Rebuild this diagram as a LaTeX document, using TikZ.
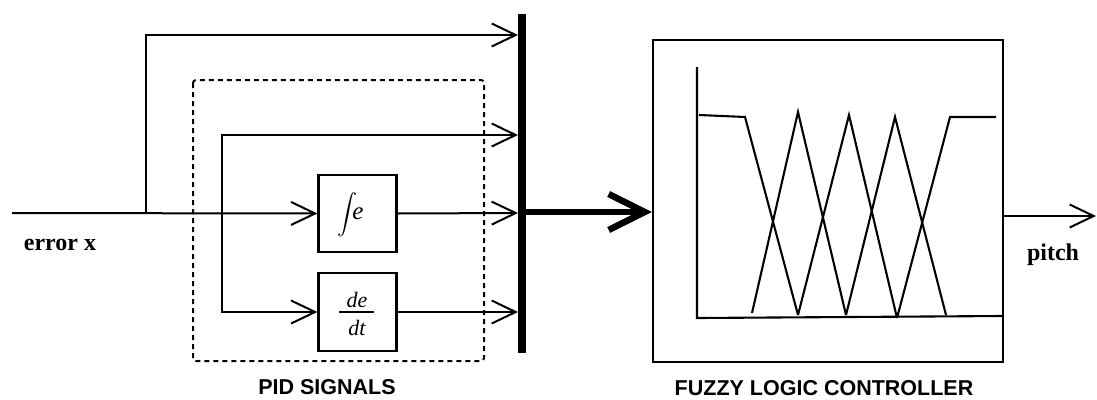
\documentclass[tikz,border=0pt]{standalone}
\usepackage{fontspec}
\setmainfont{Liberation Serif}
\setsansfont{Liberation Sans}
\usetikzlibrary{arrows.meta}
\tikzset{
  wire/.style={line width=2pt},
  arr/.style={wire, -{Straight Barb[length=24pt,width=23pt,line width=2pt]}},
  bigarr/.style={line width=6.5pt, -{Straight Barb[length=36pt,width=36pt,line width=6.5pt]}},
  blockbox/.style={draw, line width=2.2pt, minimum width=78pt, minimum height=77pt, inner sep=0pt},
  mathtxt/.style={inner sep=0pt, font=\itshape\fontsize{22}{22}\selectfont},
  capt/.style={font=\sffamily\bfseries\fontsize{21.5}{24}\selectfont, inner sep=0pt},
  lab/.style={font=\rmfamily\bfseries\fontsize{24}{26}\selectfont, inner sep=0pt},
  mf/.style={line width=2.1pt, line join=miter}
}
\begin{document}
\begin{tikzpicture}[x=1pt,y=-1pt]
\useasboundingbox (0,0) rectangle (1097,399);
% dashed PID frame
\draw[line width=2pt, dash pattern=on 5pt off 4pt, rounded corners=3pt] (193,80) rectangle (484,361);
% blocks
\node[blockbox] (intbox) at (357.5,213.5) {};
\node[blockbox, minimum height=78pt] (derbox) at (357.5,312) {};
\node[inner sep=0pt] (intsign) at (347,215) {\scalebox{2.0}{$\displaystyle\int$}};
\node[mathtxt, font=\itshape\fontsize{25}{25}\selectfont] (intvar) at (358,214) {e};
\node[mathtxt] (dnum) at (357,300) {de};
\node[mathtxt] (dden) at (357,328) {dt};
\draw[line width=1.4pt] (339,312) -- (374,312);
% bus
\coordinate (bustop) at (522,14);
\coordinate (busbot) at (522,353);
\draw[line width=7.5pt] (bustop) -- (busbot);
\coordinate (p1) at (518,35);
\coordinate (p2) at (518,135);
\coordinate (p3) at (518,213);
\coordinate (p4) at (518,312);
% fuzzy controller box
\node[draw, line width=2.2pt, minimum width=350pt, minimum height=322pt, inner sep=0pt] (flc) at (828,201) {};
% input and branches
\coordinate (in) at (12,213);
\coordinate (b1) at (146,213);
\coordinate (b2) at (222,213);
\draw[arr] (in) -- (intbox.west);
\draw[arr] (b1) |- (p1);
\draw[arr] (b2) |- (p2);
\draw[arr] (b2) |- (derbox.west);
\draw[arr] (intbox.east) -- (p3);
\draw[arr] (derbox.east) -- (p4);
% big arrow
\coordinate (bigstart) at (525,212);
\draw[bigarr] (bigstart) -- (bigstart -| flc.west);
% output
\coordinate (outs) at (1003,216);
\coordinate (oute) at (1096,216);
\draw[arr] (outs) -- (oute);
% membership axes
\coordinate (ax0) at (697,318);
\draw[mf] (697,67) -- (ax0) -- (1003,316);
% membership functions
\draw[mf] (699,115) -- (745,117) -- (798,315);
\draw[mf] (752,313) -- (798,112) -- (846,315);
\draw[mf] (798,315) -- (849,115) -- (897,318);
\draw[mf] (846,315) -- (895,117) -- (946,315);
\draw[mf] (897,318) -- (950,117) -- (996,117);
% labels
\node[lab] (errlab) at (60,245) {error x};
\node[lab] (pitchlab) at (1053,255) {pitch};
\node[capt] (pidlab) at (327,387) {PID SIGNALS};
\node[capt] (flclab) at (824,388) {FUZZY LOGIC CONTROLLER};
\end{tikzpicture}
\end{document}
